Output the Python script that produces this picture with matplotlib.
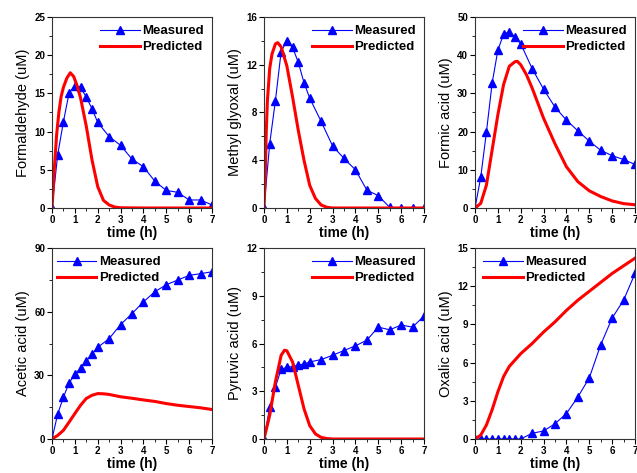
import matplotlib
matplotlib.use("Agg")
import matplotlib.pyplot as plt
from matplotlib.ticker import MultipleLocator

plt.rcParams['font.family'] = ['Liberation Sans', 'DejaVu Sans']

# measured sampling times (h)
t_meas = [0, 0.25, 0.5, 0.75, 1, 1.25, 1.5, 1.75, 2, 2.5, 3, 3.5, 4, 4.5, 5, 5.5, 6, 6.5, 7]

# measured values (uM)
formaldehyde_meas = [0, 7.0, 11.3, 15.1, 16.0, 15.8, 14.5, 13.0, 11.2, 9.35, 8.2, 6.4, 5.4, 3.5, 2.3, 2.05, 1.05, 1.05, 0.4]
methylglyoxal_meas = [0, 5.4, 9.0, 13.1, 14.0, 13.45, 12.2, 10.5, 9.2, 7.25, 5.2, 4.15, 3.2, 1.5, 1.03, 0.05, 0, 0, 0]
formic_meas = [0, 8.0, 19.9, 32.7, 41.3, 45.5, 46.1, 44.8, 43.0, 36.5, 31.1, 26.4, 23.0, 20.2, 17.5, 15.1, 13.7, 12.7, 11.4]
acetic_meas = [0, 11.8, 19.7, 26.5, 30.4, 33.4, 36.7, 40.0, 43.2, 47.3, 53.9, 59.1, 64.6, 69.4, 72.7, 74.9, 77.1, 77.9, 78.8]
pyruvic_meas = [0, 2.0, 3.26, 4.38, 4.5, 4.55, 4.63, 4.72, 4.84, 4.99, 5.26, 5.56, 5.85, 6.21, 7.03, 6.86, 7.16, 7.03, 7.73]
oxalic_meas = [0, 0, 0, 0, 0, 0, 0, 0, 0, 0.45, 0.63, 1.2, 2.0, 3.3, 4.8, 7.4, 9.5, 10.9, 13.0]

# predicted curves
t_form_pred = [0, 0.1, 0.2, 0.3, 0.4, 0.5, 0.65, 0.8, 0.95, 1.1, 1.25, 1.5, 1.75, 2.0, 2.25, 2.5, 2.75, 3.0, 4, 5, 6, 7]
formaldehyde_pred = [0, 5.0, 9.5, 12.5, 14.6, 15.8, 17.0, 17.7, 17.2, 16.0, 14.4, 10.7, 6.3, 2.8, 1.0, 0.4, 0.12, 0.03, 0, 0, 0, 0]

t_mg_pred = [0, 0.05, 0.1, 0.15, 0.25, 0.35, 0.5, 0.6, 0.75, 1.0, 1.25, 1.5, 1.75, 2.0, 2.25, 2.5, 2.75, 3.0, 4, 5, 6, 7]
methylglyoxal_pred = [0, 2.4, 6.5, 9.0, 11.7, 12.9, 13.75, 13.85, 13.5, 11.9, 9.3, 6.5, 4.0, 1.9, 0.8, 0.25, 0.06, 0, 0, 0, 0, 0]

t_formic_pred = [0, 0.25, 0.5, 0.75, 1.0, 1.25, 1.5, 1.75, 1.85, 2.0, 2.25, 2.5, 3.0, 3.5, 4.0, 4.5, 5.0, 5.5, 6.0, 6.5, 7.0]
formic_pred = [0, 1.2, 6.0, 15.2, 24.4, 32.3, 37.1, 38.3, 38.4, 37.5, 34.9, 31.4, 23.5, 16.8, 10.8, 6.9, 4.5, 3.0, 1.85, 1.15, 0.85]

t_acetic_pred = [0, 0.25, 0.5, 0.75, 1.0, 1.25, 1.5, 1.75, 2.0, 2.25, 2.5, 3.0, 3.5, 4.0, 4.5, 5.0, 5.5, 6.0, 6.5, 7.0]
acetic_pred = [0, 1.7, 4.1, 8.0, 12.0, 15.9, 19.1, 20.6, 21.4, 21.3, 21.0, 19.9, 19.2, 18.4, 17.7, 16.7, 15.9, 15.3, 14.7, 13.9]

t_pyr_pred = [0, 0.25, 0.5, 0.75, 0.9, 1.0, 1.25, 1.5, 1.75, 2.0, 2.25, 2.5, 2.75, 3.0, 4, 5, 6, 7]
pyruvic_pred = [0, 1.5, 3.6, 5.26, 5.58, 5.54, 4.84, 3.37, 1.9, 0.84, 0.32, 0.1, 0.03, 0, 0, 0, 0, 0]

t_ox_pred = [0, 0.25, 0.5, 0.75, 1.0, 1.25, 1.5, 1.75, 2.0, 2.5, 3.0, 3.5, 4.0, 4.5, 5.0, 5.5, 6.0, 6.5, 7.0]
oxalic_pred = [0, 0.3, 1.1, 2.3, 3.7, 4.9, 5.7, 6.2, 6.7, 7.5, 8.4, 9.2, 10.1, 10.9, 11.6, 12.3, 13.0, 13.6, 14.2]

panels = [
    ("Formaldehyde (uM)", formaldehyde_meas, t_form_pred, formaldehyde_pred, 25, 5, "upper right"),
    ("Methyl glyoxal (uM)", methylglyoxal_meas, t_mg_pred, methylglyoxal_pred, 16, 4, "upper right"),
    ("Formic acid (uM)", formic_meas, t_formic_pred, formic_pred, 50, 10, "upper right"),
    ("Acetic acid (uM)", acetic_meas, t_acetic_pred, acetic_pred, 90, 30, "upper left"),
    ("Pyruvic acid (uM)", pyruvic_meas, t_pyr_pred, pyruvic_pred, 12, 3, "upper right"),
    ("Oxalic acid (uM)", oxalic_meas, t_ox_pred, oxalic_pred, 15, 3, "upper left"),
]

fig = plt.figure(figsize=(6.37, 4.73), dpi=100)
lefts = [52 / 637, 264 / 637, 475 / 637]
bottoms = [1 - 208 / 473, 1 - 439 / 473]
w = 160 / 637
h = 191 / 473

for i, (ylab, meas, tp, pred, ymax, ystep, loc) in enumerate(panels):
    ax = fig.add_axes([lefts[i % 3], bottoms[i // 3], w, h])
    ax.plot(t_meas, meas, color='blue', lw=0.8, marker='^', ms=5.5, label='Measured')
    ax.plot(tp, pred, color='red', lw=2.2, label='Predicted')
    ax.set_xlim(0, 7)
    ax.set_ylim(0, ymax)
    ax.xaxis.set_major_locator(MultipleLocator(1))
    ax.xaxis.set_minor_locator(MultipleLocator(0.5))
    ax.yaxis.set_major_locator(MultipleLocator(ystep))
    ax.yaxis.set_minor_locator(MultipleLocator(ystep / 2))
    ax.tick_params(which='major', direction='out', length=3.5, width=0.8, labelsize=7, pad=1.5)
    ax.tick_params(which='minor', direction='out', length=2, width=0.6)
    for lab in ax.get_xticklabels() + ax.get_yticklabels():
        lab.set_fontweight('bold')
    for sp in ax.spines.values():
        sp.set_color('#333333')
        sp.set_linewidth(0.8)
    ax.set_xlabel('time (h)', fontsize=10, fontweight='bold', labelpad=1)
    ax.set_ylabel(ylab, fontsize=10.5, labelpad=3)
    if i == 3:
        bbox = (-0.02, 1.0)
    elif i == 5:
        bbox = (0.0, 1.0)
    else:
        bbox = (1.0, 1.0)
    ax.legend(loc=loc, bbox_to_anchor=bbox, frameon=False, handlelength=3.0, handletextpad=0.2,
              borderaxespad=0.2, labelspacing=0.3, prop={'weight': 'bold', 'size': 9.5})

fig.savefig('out.png', dpi=100)
